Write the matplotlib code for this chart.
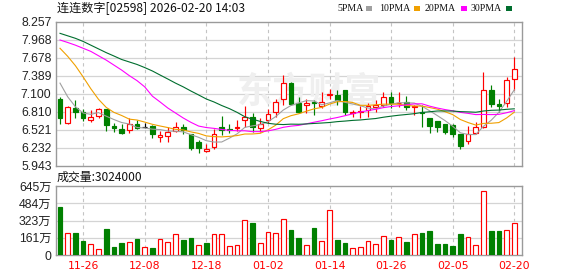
import matplotlib
matplotlib.use("Agg")
import matplotlib.pyplot as plt
from matplotlib.patches import Rectangle

plt.rcParams['font.family'] = ['Liberation Sans', 'Noto Sans CJK SC', 'DejaVu Sans']

# ---------------- data ----------------
dates = ["11-21", "11-24", "11-25", "11-26", "11-27", "11-28", "12-01", "12-02", "12-03", "12-04",
         "12-05", "12-08", "12-09", "12-10", "12-11", "12-12", "12-15", "12-16", "12-17", "12-18",
         "12-19", "12-22", "12-23", "12-24", "12-29", "12-30", "12-31", "01-02", "01-05", "01-06",
         "01-07", "01-08", "01-09", "01-12", "01-13", "01-14", "01-15", "01-16", "01-19", "01-20",
         "01-21", "01-22", "01-23", "01-26", "01-27", "01-28", "01-29", "01-30", "02-02", "02-03",
         "02-04", "02-05", "02-06", "02-09", "02-10", "02-11", "02-12", "02-13", "02-16", "02-20"]

opens = [7.015, 6.624, 6.875, 6.811, 6.672, 6.742, 6.854, 6.586, 6.528, 6.517,
         6.613, 6.560, 6.586, 6.409, 6.425, 6.505, 6.560, 6.448, 6.319, 6.184,
         6.240, 6.570, 6.535, 6.544, 6.677, 6.730, 6.544, 6.677, 6.811, 7.010,
         7.277, 6.946, 6.918, 6.962, 6.907, 7.080, 7.079, 7.159, 6.785, 6.801,
         6.838, 6.891, 6.918, 7.052, 6.946, 6.971, 6.882, 6.811, 6.705, 6.661,
         6.613, 6.597, 6.452, 6.345, 6.473, 6.570, 7.159, 6.930, 6.946, 7.331]
highs = [7.052, 6.900, 6.999, 6.854, 6.833, 6.865, 6.860, 6.634, 6.610, 6.705,
         6.680, 6.624, 6.600, 6.500, 6.565, 6.640, 6.610, 6.460, 6.356, 6.287,
         6.530, 6.740, 6.610, 6.677, 6.902, 6.785, 6.705, 6.849, 7.010, 7.400,
         7.280, 7.052, 7.010, 6.999, 7.122, 7.171, 7.159, 7.160, 6.840, 6.900,
         6.946, 6.999, 7.132, 7.132, 7.132, 7.063, 6.918, 6.918, 6.705, 6.665,
         6.615, 6.610, 6.455, 6.580, 6.650, 7.453, 7.240, 7.015, 7.373, 7.695]
lows = [6.608, 6.620, 6.714, 6.666, 6.650, 6.714, 6.505, 6.489, 6.455, 6.464,
        6.540, 6.555, 6.393, 6.329, 6.329, 6.489, 6.460, 6.200, 6.152, 6.168,
        6.206, 6.436, 6.470, 6.505, 6.570, 6.489, 6.489, 6.624, 6.730, 6.918,
        6.918, 6.785, 6.795, 6.758, 6.865, 7.010, 6.918, 6.758, 6.720, 6.714,
        6.720, 6.810, 6.890, 6.865, 6.890, 6.838, 6.758, 6.570, 6.464, 6.489,
        6.460, 6.409, 6.211, 6.291, 6.448, 6.543, 6.890, 6.810, 6.890, 7.159]
closes = [6.705, 6.891, 6.811, 6.705, 6.726, 6.854, 6.597, 6.544, 6.464, 6.608,
          6.555, 6.560, 6.448, 6.436, 6.479, 6.560, 6.512, 6.222, 6.222, 6.211,
          6.448, 6.517, 6.522, 6.565, 6.730, 6.570, 6.613, 6.769, 6.971, 7.267,
          6.935, 6.811, 6.956, 6.946, 6.962, 7.090, 6.999, 6.811, 6.811, 6.822,
          6.907, 6.918, 7.052, 6.946, 6.956, 6.891, 6.907, 6.795, 6.581, 6.570,
          6.489, 6.452, 6.264, 6.452, 6.560, 7.159, 6.930, 6.907, 7.320, 7.497]

ma5 = [7.27, 7.05, 6.89, 6.79, 6.768, 6.797, 6.739, 6.685, 6.637, 6.613,
       6.557, 6.549, 6.530, 6.524, 6.499, 6.497, 6.487, 6.442, 6.399, 6.345,
       6.323, 6.324, 6.386, 6.455, 6.559, 6.583, 6.603, 6.650, 6.731, 6.838,
       6.911, 6.951, 6.988, 6.983, 6.922, 6.953, 6.991, 6.962, 6.935, 6.907,
       6.870, 6.854, 6.902, 6.929, 6.956, 6.953, 6.950, 6.899, 6.826, 6.749,
       6.668, 6.577, 6.471, 6.445, 6.443, 6.577, 6.673, 6.802, 6.975, 7.163]
ma10 = [7.83, 7.70, 7.55, 7.37, 7.18, 7.01, 6.88, 6.80, 6.75, 6.691,
        6.677, 6.644, 6.608, 6.581, 6.556, 6.527, 6.518, 6.486, 6.462, 6.422,
        6.410, 6.406, 6.414, 6.427, 6.452, 6.453, 6.463, 6.518, 6.593, 6.699,
        6.747, 6.777, 6.819, 6.857, 6.880, 6.932, 6.971, 6.975, 6.959, 6.914,
        6.912, 6.922, 6.932, 6.932, 6.931, 6.911, 6.902, 6.901, 6.878, 6.852,
        6.811, 6.764, 6.685, 6.636, 6.596, 6.623, 6.625, 6.636, 6.710, 6.803]
ma20 = [7.963, 7.923, 7.88, 7.83, 7.78, 7.71, 7.64, 7.56, 7.48, 7.39,
        7.31, 7.21, 7.06, 6.967, 6.87, 6.79, 6.71, 6.64, 6.58, 6.556,
        6.543, 6.525, 6.511, 6.504, 6.504, 6.490, 6.491, 6.502, 6.527, 6.560,
        6.579, 6.591, 6.616, 6.642, 6.666, 6.693, 6.717, 6.746, 6.776, 6.806,
        6.829, 6.849, 6.876, 6.894, 6.906, 6.922, 6.936, 6.938, 6.900, 6.870,
        6.845, 6.825, 6.800, 6.784, 6.764, 6.767, 6.764, 6.768, 6.794, 6.828]
ma30 = [8.07, 8.03, 7.99, 7.94, 7.88, 7.82, 7.76, 7.706, 7.65, 7.61,
        7.57, 7.52, 7.465, 7.40, 7.336, 7.27, 7.21, 7.143, 7.08, 7.015,
        6.967, 6.91, 6.86, 6.80, 6.73, 6.69, 6.655, 6.625, 6.61, 6.604,
        6.611, 6.609, 6.614, 6.622, 6.629, 6.637, 6.651, 6.660, 6.671, 6.678,
        6.690, 6.701, 6.722, 6.739, 6.754, 6.766, 6.779, 6.798, 6.810, 6.822,
        6.823, 6.821, 6.812, 6.808, 6.802, 6.822, 6.833, 6.837, 6.849, 6.857]

# volume in 万 (10k shares)
volumes = [451, 203, 209, 131, 100, 53, 243, 75, 112, 119,
           150, 72, 65, 147, 122, 193, 140, 159, 90, 112,
           193, 193, 81, 90, 324, 299, 109, 212, 203, 334,
           234, 156, 90, 252, 128, 418, 140, 112, 62, 72,
           131, 103, 175, 140, 165, 122, 196, 209, 224, 103,
           103, 84, 196, 165, 90, 595, 224, 224, 234, 302.4]
# 1 = red (up) volume bar, 0 = green (down)
vol_up = [0, 1, 0, 0, 1, 1, 0, 0, 0, 1,
          0, 1, 0, 1, 1, 1, 0, 0, 1, 0,
          1, 1, 1, 1, 1, 0, 1, 1, 1, 1,
          0, 0, 1, 0, 1, 1, 0, 0, 1, 1,
          1, 1, 1, 0, 1, 0, 1, 0, 0, 0,
          0, 0, 0, 1, 1, 1, 0, 0, 1, 1]

price_ticks = [5.943, 6.232, 6.521, 6.811, 7.100, 7.389, 7.678, 7.968, 8.257]
price_labels = ["5.943", "6.232", "6.521", "6.810", "7.100", "7.389", "7.678", "7.968", "8.257"]
vol_ticks = [0, 161.25, 322.5, 483.75, 645]
vol_labels = ["0", "161万", "323万", "484万", "645万"]
label_idx = [3, 11, 19, 27, 35, 43, 51, 59]

title = "连连数字[02598] 2026-02-20 14:03"
vol_title = "成交量:3024000"
ma_names = ["5PMA", "10PMA", "20PMA", "30PMA"]

# ---------------- style ----------------
RED = "#ff0000"
GREEN = "#008000"
MA_COLORS = ["#a0a0a0", "#f0a000", "#ff00ff", "#006e2e"]
GRID = "#d4d4d4"
FRAME = "#9a9a9a"

W, H = 578, 276
fig = plt.figure(figsize=(W / 100, H / 100), dpi=100)
L, R = 55.7, 522.3
ax = fig.add_axes([L / W, 1 - 165.7 / H, (R - L) / W, 144 / H])
axv = fig.add_axes([L / W, 1 - 255 / H, (R - L) / W, 69 / H])

n = len(closes)
x = list(range(n))
xlim = (-0.56, n - 1 + 1.04)

for a in (ax, axv):
    a.set_xlim(*xlim)
    for s in a.spines.values():
        s.set_color(FRAME)
        s.set_linewidth(1.0)
    a.tick_params(axis='both', length=0)
    for i in label_idx:
        a.axvline(i, color="#c4c4c4", lw=0.8, ls=(0, (3, 3)), zorder=0.6)

# price panel
ax.set_ylim(price_ticks[0], price_ticks[-1])
ax.set_yticks(price_ticks)
ax.set_yticklabels(price_labels, fontsize=8.8, color="#222222")
ax.tick_params(axis='y', pad=3)
ax.set_xticks([])
for t in price_ticks[1:-1]:
    ax.axhline(t, color=GRID, lw=0.9, zorder=0.5)

ax.text((237 - L) / (R - L), 0.51, "东方财富", transform=ax.transAxes, ha='left', va='center',
        fontsize=26, fontweight='bold', color="#efefef", family=['Noto Sans CJK SC'], zorder=0.7)

for i in range(n):
    o, c, h, l = opens[i], closes[i], highs[i], lows[i]
    if c > o:
        col, face = RED, "white"
    elif c < o:
        col, face = GREEN, GREEN
    else:
        col, face = "black", "black"
    ax.vlines(x[i], l, h, color=col, lw=0.85, zorder=2)
    bottom = min(o, c)
    height = max(abs(c - o), 0.004)
    ax.bar(x[i], height, bottom=bottom, width=0.62, facecolor=face, edgecolor=col,
           linewidth=0.85, zorder=3)

for ma, colr in zip([ma5, ma10, ma20, ma30], MA_COLORS):
    ax.plot(x, ma, color=colr, lw=0.8, zorder=4)

# volume panel
axv.set_ylim(0, vol_ticks[-1])
axv.set_yticks(vol_ticks)
axv.set_yticklabels(vol_labels, fontsize=8.8, color="#222222")
axv.tick_params(axis='y', pad=3)
for t in vol_ticks[1:-1]:
    axv.axhline(t, color=GRID, lw=0.9, zorder=0.5)
for i in range(n):
    if vol_up[i]:
        axv.bar(x[i], volumes[i], width=0.62, facecolor="white", edgecolor=RED, linewidth=0.85, zorder=3)
    else:
        axv.bar(x[i], volumes[i], width=0.62, facecolor=GREEN, edgecolor=GREEN, linewidth=0.85, zorder=3)
axv.set_xticks(label_idx)
axv.set_xticklabels([dates[i] for i in label_idx], fontsize=7.8, color=RED, family=['DejaVu Sans'])
axv.tick_params(axis='x', pad=4.5)

# header texts
fig.text(57 / W, 1 - 8.6 / H, title, ha='left', va='center', fontsize=8.7,
         family=['Noto Sans CJK SC', 'DejaVu Sans'], color="#111111")
fig.text(57 / W, 1 - 177.5 / H, vol_title, ha='left', va='center', fontsize=8.6,
         family=['Noto Sans CJK SC', 'DejaVu Sans'], color="#111111")

leg_x = [337.5, 379.0, 424.7, 470.7]
sq_x = [365.5, 413.8, 460.5, 505.5]
for name, lx, sx, colr in zip(ma_names, leg_x, sq_x, MA_COLORS):
    fig.text(lx / W, 1 - 8.6 / H, name, ha='left', va='center', fontsize=7.1,
             family=['Liberation Serif'], color="#111111")
    fig.add_artist(Rectangle((sx / W, 1 - 10.5 / H), 6 / W, 4.5 / H, transform=fig.transFigure,
                             facecolor=colr, edgecolor='none'))

fig.savefig("out.png", dpi=100)
